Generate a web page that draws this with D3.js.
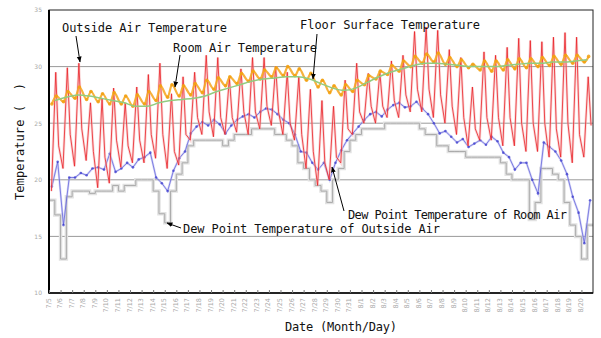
<!DOCTYPE html>
<html>
<head>
<meta charset="utf-8">
<script src="https://cdn.jsdelivr.net/npm/d3@7"></script>
<style>
  html, body { margin: 0; padding: 0; background: #fff; }
  svg { display: block; }
</style>
</head>
<body>
<svg id="chart" width="601" height="338"></svg>
<script>
// Day labels along the time axis (one per day, midnight)
const dayLabels = [
  "7/5","7/6","7/7","7/8","7/9","7/10","7/11","7/12","7/13","7/14","7/15","7/16",
  "7/17","7/18","7/19","7/20","7/21","7/22","7/23","7/24","7/25","7/26","7/27",
  "7/28","7/29","7/30","7/31","8/1","8/2","8/3","8/4","8/5","8/6","8/7","8/8",
  "8/9","8/10","8/11","8/12","8/13","8/14","8/15","8/16","8/17","8/18","8/19","8/20"
];
const yTicks = [10, 15, 20, 25, 30, 35];

// Outside air temperature (°C): early-morning low, afternoon high, evening value
const outsideLow  = [19.0,21.0,21.2,21.7,19.3,19.7,21.1,21.5,21.5,21.9,21.0,21.3,
                     23.5,24.0,23.8,24.0,24.2,24.0,24.5,24.8,24.0,23.5,21.0,19.5,
                     20.0,21.5,24.0,25.0,25.0,25.5,25.5,26.0,26.0,25.5,25.0,24.0,
                     23.0,23.5,23.5,23.0,23.0,22.5,22.5,22.0,22.0,21.5,22.0];
const outsideHigh = [29.5,29.9,30.3,26.8,27.2,28.1,26.8,28.2,29.3,30.3,27.6,29.1,
                     29.5,31.0,30.8,29.0,29.8,30.8,30.8,30.0,29.5,29.1,28.0,27.0,
                     26.5,28.8,30.3,29.4,29.5,30.5,31.0,33.1,33.5,33.2,31.5,30.8,
                     28.2,31.3,31.0,31.7,32.5,32.3,32.2,32.6,33.0,32.6,29.1];
const outsideEve  = [23.0,24.0,24.5,22.5,22.0,23.5,23.0,23.5,24.0,24.0,22.5,24.0,
                     25.5,26.0,25.5,25.5,26.0,26.0,26.5,26.0,25.0,24.0,22.5,21.5,
                     22.0,24.5,26.0,26.5,26.5,27.0,27.5,28.0,28.0,27.5,26.5,25.5,
                     24.5,25.5,25.5,25.5,25.0,25.0,25.0,24.5,25.0,24.0,24.8];

// Room air temperature (°C): morning low, afternoon high
const roomLow  = [26.7,26.9,27.2,27.1,26.9,26.7,26.7,26.5,26.7,27.0,27.3,27.4,
                  27.5,27.7,28.0,28.3,28.5,28.7,28.9,29.1,29.2,29.2,28.8,28.2,
                  27.7,27.5,27.8,28.4,28.9,29.3,29.6,30.0,30.3,30.4,30.2,30.0,
                  29.9,29.7,29.6,29.7,29.8,29.9,30.0,30.1,30.2,30.3,30.4];
const roomHigh = [27.4,27.8,28.2,27.8,27.6,27.7,27.4,27.5,27.8,28.3,28.4,28.3,
                  28.5,28.8,29.0,29.1,29.4,29.6,29.7,29.9,30.0,29.8,29.4,28.8,
                  28.3,28.4,28.8,29.2,29.6,30.1,30.5,30.9,31.1,31.2,30.8,30.6,
                  30.2,30.5,30.5,30.6,30.7,30.7,30.8,30.9,31.0,31.0,30.9];

// Floor surface temperature (°C), daily
const floorTemp = [27.0,27.3,27.5,27.4,27.2,27.0,26.8,26.5,26.5,26.8,27.0,27.1,
                   27.2,27.4,27.8,28.1,28.4,28.7,28.9,29.0,29.1,29.1,28.9,28.5,
                   28.1,27.9,28.1,28.6,29.1,29.5,29.8,30.1,30.3,30.3,30.2,30.1,
                   30.0,30.0,30.0,30.1,30.2,30.3,30.3,30.4,30.4,30.5,30.6];

// Dew point of room air (°C): morning, evening
const dewRoomAm = [19.4,16.0,20.2,20.4,21.1,22.3,21.0,21.1,22.0,20.2,19.0,21.9,
                   24.1,25.1,25.3,24.1,25.3,25.8,26.0,26.2,25.3,24.0,22.4,20.9,
                   20.0,22.6,24.1,25.3,26.0,26.2,26.8,26.5,26.3,25.0,24.3,23.3,
                   22.9,23.5,23.8,22.4,20.9,21.5,18.8,22.9,21.7,18.5,14.4];
const dewRoomPm = [21.6,20.2,20.6,21.0,20.9,20.7,21.5,21.8,22.4,19.7,20.8,22.5,
                   24.7,24.8,24.9,24.8,25.6,25.5,26.3,25.8,25.0,22.5,21.5,21.5,
                   21.5,23.5,24.7,25.8,25.6,26.6,26.4,26.9,25.8,24.1,23.8,23.6,
                   23.2,23.1,23.4,22.0,21.5,20.0,23.3,22.5,20.5,17.1,18.2];

// Dew point of outside air (°C): first and second half of each day
const dewOutAm = [18.2,13.0,19.0,19.0,19.0,19.0,19.0,19.5,20.0,19.0,16.2,20.5,
                  23.0,23.5,23.5,23.0,24.0,24.0,24.5,24.5,24.0,23.0,21.0,19.5,
                  18.0,21.0,23.5,24.5,24.5,25.0,25.0,25.0,24.5,24.0,23.0,22.5,
                  22.0,22.0,22.0,21.5,20.0,20.0,18.0,21.0,20.0,16.0,13.0];
const dewOutPm = [16.9,18.5,19.0,18.8,19.0,19.5,19.5,20.0,20.0,17.0,19.0,21.5,
                  23.5,23.5,23.5,23.5,24.0,24.5,24.5,24.0,23.5,21.5,20.0,19.0,
                  20.0,22.5,24.0,24.5,24.5,25.0,25.0,25.0,24.0,23.0,22.5,22.5,
                  22.0,22.0,22.0,20.5,20.0,16.5,21.0,20.5,18.0,15.0,16.0];

const plot = { left: 49, right: 593, top: 10, bottom: 293 };
const svg = d3.select("#chart");

const x = d3.scaleLinear().domain([0, dayLabels.length]).range([plot.left, plot.right]);
const y = d3.scaleLinear().domain([10, 35]).range([plot.bottom, plot.top]);

// Horizontal grid lines
svg.append("g")
  .selectAll("line")
  .data(yTicks.filter(t => t > 10 && t < 35))
  .join("line")
  .attr("x1", plot.left).attr("x2", plot.right)
  .attr("y1", d => y(d)).attr("y2", d => y(d))
  .attr("stroke", "#9a9a9a").attr("stroke-width", 1);

// Series point lists: [day offset, value]
const outsidePts = dayLabels.flatMap((_, i) => [
  [i + 5 / 24, outsideLow[i]], [i + 14 / 24, outsideHigh[i]], [i + 20 / 24, outsideEve[i]]
]);
const roomPts = dayLabels.flatMap((_, i) => [[i + 6 / 24, roomLow[i]], [i + 15 / 24, roomHigh[i]]]);
const floorPts = dayLabels.map((_, i) => [i + 0.5, floorTemp[i]]);
const dewRoomPts = dayLabels.flatMap((_, i) => [[i + 0.25, dewRoomAm[i]], [i + 0.75, dewRoomPm[i]]]);
const dewOutPts = dayLabels.flatMap((_, i) => [[i, dewOutAm[i]], [i + 0.5, dewOutPm[i]]]);
dewOutPts.push([dayLabels.length, dewOutPm[dewOutPm.length - 1]]);

const line = d3.line().x(d => x(d[0])).y(d => y(d[1]));
const series = svg.append("g");

// Dew point of outside air: stepped grey
series.append("path").datum(dewOutPts)
  .attr("d", line.curve(d3.curveStepAfter))
  .attr("fill", "none").attr("stroke", "#e2e2e2").attr("stroke-width", 3.5);
series.append("path").datum(dewOutPts)
  .attr("d", line.curve(d3.curveStepAfter))
  .attr("fill", "none").attr("stroke", "#ababab").attr("stroke-width", 1);

// Dew point of room air: blue with small markers
series.append("path").datum(dewRoomPts)
  .attr("d", line.curve(d3.curveLinear))
  .attr("fill", "none").attr("stroke", "#b4b4ee").attr("stroke-width", 2.2).attr("opacity", 0.55);
series.append("path").datum(dewRoomPts)
  .attr("d", line.curve(d3.curveLinear))
  .attr("fill", "none").attr("stroke", "#4a4ad6").attr("stroke-width", 0.9).attr("opacity", 0.7);
series.append("g").selectAll("circle").data(dewRoomPts).join("circle")
  .attr("cx", d => x(d[0])).attr("cy", d => y(d[1])).attr("r", 1.3)
  .attr("fill", "#3434cc").attr("opacity", 0.7);

// Outside air temperature: red
series.append("path").datum(outsidePts)
  .attr("d", line.curve(d3.curveLinear))
  .attr("fill", "none").attr("stroke", "#f6b4b4").attr("stroke-width", 2.6).attr("opacity", 0.5);
series.append("path").datum(outsidePts)
  .attr("d", line.curve(d3.curveLinear))
  .attr("fill", "none").attr("stroke", "#ea2027").attr("stroke-width", 1).attr("opacity", 0.8);

// Room air temperature: orange with small markers
series.append("path").datum(roomPts)
  .attr("d", line.curve(d3.curveMonotoneX))
  .attr("fill", "none").attr("stroke", "#f6aa28").attr("stroke-width", 2.2).attr("opacity", 0.9);
series.append("g").selectAll("circle").data(roomPts).join("circle")
  .attr("cx", d => x(d[0])).attr("cy", d => y(d[1])).attr("r", 1.8)
  .attr("fill", "#f2a010").attr("opacity", 0.85);

// Floor surface temperature: green
series.append("path").datum(floorPts)
  .attr("d", line.curve(d3.curveMonotoneX))
  .attr("fill", "none").attr("stroke", "#92cc80").attr("stroke-width", 1.5);

// Plot frame
svg.append("rect")
  .attr("x", plot.left).attr("y", plot.top)
  .attr("width", plot.right - plot.left).attr("height", plot.bottom - plot.top)
  .attr("fill", "none").attr("stroke", "#222").attr("stroke-width", 1);
svg.append("line")
  .attr("x1", plot.left).attr("x2", plot.left).attr("y1", plot.top).attr("y2", plot.bottom + 0.5)
  .attr("stroke", "#000").attr("stroke-width", 2);
svg.append("line")
  .attr("x1", plot.left).attr("x2", plot.right).attr("y1", plot.bottom).attr("y2", plot.bottom)
  .attr("stroke", "#000").attr("stroke-width", 1.6);

// Y axis labels
const yAxis = d3.axisLeft(y).tickValues(yTicks).tickSize(0).tickPadding(7);
const yG = svg.append("g").attr("transform", `translate(${plot.left},0)`).call(yAxis);
yG.select(".domain").remove();
yG.selectAll("text").attr("font-family", "DejaVu Sans").attr("font-size", 6).attr("fill", "#a8a8a8");

// X axis: daily ticks, rotated labels
const xAxis = d3.axisBottom(x).tickValues(d3.range(dayLabels.length))
  .tickFormat(i => dayLabels[i]).tickSizeInner(-3).tickSizeOuter(0).tickPadding(0);
const xG = svg.append("g").attr("transform", `translate(0,${plot.bottom})`).call(xAxis);
xG.select(".domain").remove();
xG.selectAll(".tick line").attr("stroke", "#777");
xG.selectAll("text")
  .attr("font-family", "DejaVu Sans").attr("font-size", 6.5).attr("fill", "#a8a8a8")
  .attr("text-anchor", "end").attr("dy", null).attr("y", null)
  .attr("transform", "translate(1,5) rotate(-90)");

// Axis titles
const mono = "DejaVu Sans Mono";
svg.append("text")
  .attr("transform", "translate(24,200) rotate(-90)")
  .attr("font-family", mono).attr("font-size", 12).attr("fill", "#111")
  .attr("textLength", 117).attr("xml:space", "preserve")
  .text("Temperature (  )");
svg.append("text")
  .attr("x", 285).attr("y", 331)
  .attr("font-family", mono).attr("font-size", 12).attr("fill", "#111")
  .attr("textLength", 112)
  .text("Date (Month/Day)");

// Series annotations with arrows
const notes = [
  { text: "Outside Air Temperature", x: 62, y: 32, len: 165, from: [76, 36], to: [80, 62] },
  { text: "Room Air Temperature", x: 173, y: 52, len: 144, from: [180, 55], to: [175, 87] },
  { text: "Floor Surface Temperature", x: 300, y: 29, len: 180, from: [317, 34], to: [313, 79] },
  { text: "Dew Point Temperature of Room Air", x: 348, y: 219, len: 219, from: [344, 211], to: [332, 167] },
  { text: "Dew Point Temperature of Outside Air", x: 183, y: 233, len: 257, from: [181, 228], to: [167, 223] }
];
const defs = svg.append("defs");
defs.append("marker").attr("id", "head").attr("viewBox", "0 0 10 10")
  .attr("refX", 9).attr("refY", 5).attr("markerWidth", 6).attr("markerHeight", 6)
  .attr("orient", "auto-start-reverse")
  .append("path").attr("d", "M0,1 L10,5 L0,9 Z").attr("fill", "#000");
const ann = svg.append("g");
ann.selectAll("line").data(notes).join("line")
  .attr("x1", d => d.from[0]).attr("y1", d => d.from[1])
  .attr("x2", d => d.to[0]).attr("y2", d => d.to[1])
  .attr("stroke", "#000").attr("stroke-width", 1).attr("marker-end", "url(#head)");
ann.selectAll("text").data(notes).join("text")
  .attr("x", d => d.x).attr("y", d => d.y)
  .attr("font-family", mono).attr("font-size", 12).attr("fill", "#111")
  .attr("textLength", d => d.len)
  .text(d => d.text);
</script>
</body>
</html>
